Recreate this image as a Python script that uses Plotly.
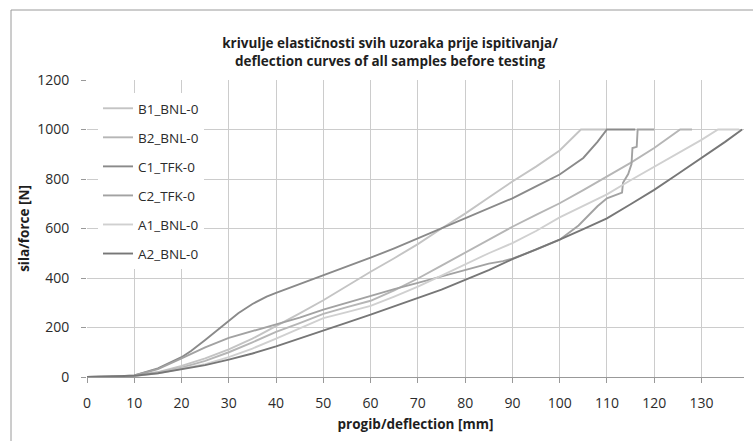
import plotly.graph_objects as go

# ---- data ----
names = ["B1_BNL-0", "B2_BNL-0", "C1_TFK-0", "C2_TFK-0", "A1_BNL-0", "A2_BNL-0"]
colors = ["#c4c4c4", "#b6b6b6", "#8a8a8a", "#a2a2a2", "#d0d0d0", "#777777"]

b1_x = [0, 5, 10, 15, 20, 25, 30, 35, 40, 45, 50, 55, 60, 65, 70, 75, 80, 85, 90, 95, 100, 104.5, 110]
b1_y = [0, 1, 5, 20, 45, 75, 112, 155, 205, 257, 310, 368, 425, 480, 537, 600, 660, 725, 790, 850, 915, 1000, 1000]

b2_x = [0, 5, 10, 15, 20, 25, 30, 35, 40, 45, 50, 55, 60, 65, 70, 75, 80, 85, 90, 95, 100, 105, 110, 115, 120, 125.5, 128]
b2_y = [0, 1, 5, 18, 38, 65, 100, 140, 182, 218, 255, 282, 308, 350, 398, 450, 503, 555, 607, 655, 702, 755, 810, 865, 925, 1000, 1000]

c1_x = [0, 5, 10, 15, 20, 22, 25, 28, 30, 32, 35, 38, 40, 45, 50, 55, 60, 65, 70, 75, 80, 85, 90, 95, 100, 105, 108, 110, 116]
c1_y = [0, 1, 6, 35, 80, 105, 150, 195, 228, 258, 295, 325, 340, 375, 410, 445, 482, 520, 560, 601, 640, 680, 722, 770, 818, 885, 950, 1000, 1000]

c2_x = [0, 5, 10, 15, 20, 25, 30, 35, 40, 45, 50, 55, 60, 65, 70, 75, 80, 85, 88, 90, 95, 100, 104,
        106, 108, 110, 112, 113.2, 113.4, 114.5, 115.2, 115.4, 116.3, 116.5, 120]
c2_y = [0, 1, 6, 32, 75, 120, 158, 185, 210, 240, 272, 300, 325, 355, 380, 405, 433, 458, 468, 478, 515, 555, 612,
        650, 690, 722, 738, 745, 785, 820, 860, 925, 930, 1000, 1000]

a1_x = [0, 5, 10, 15, 20, 25, 30, 35, 40, 45, 50, 55, 60, 65, 70, 75, 80, 85, 90, 95, 100, 105, 110, 115, 120, 125, 130, 133.5, 138]
a1_y = [0, 1, 4, 15, 32, 52, 80, 115, 155, 195, 238, 262, 287, 325, 365, 410, 455, 500, 541, 590, 645, 690, 738, 795, 850, 905, 958, 1000, 1000]

a2_x = [0, 5, 10, 15, 20, 25, 30, 35, 40, 45, 50, 55, 60, 65, 70, 75, 80, 85, 90, 95, 100, 105, 110, 115, 120, 125, 130, 135, 138.6]
a2_y = [0, 1, 5, 15, 30, 48, 70, 95, 124, 155, 188, 220, 252, 285, 318, 353, 392, 432, 476, 515, 555, 597, 641, 698, 756, 820, 884, 950, 1000]

series_x = [b1_x, b2_x, c1_x, c2_x, a1_x, a2_x]
series_y = [b1_y, b2_y, c1_y, c2_y, a1_y, a2_y]

x_ticks = list(range(0, 140, 10))
y_ticks = list(range(0, 1201, 200))

title_text = "krivulje elastičnosti svih uzoraka prije ispitivanja/<br>deflection curves of all samples before testing"
x_title = "progib/deflection [mm]"
y_title = "sila/force [N]"

FONT = "Open Sans"
TXT = "#2b2b2b"

fig = go.Figure()
for name, col, xs, ys in zip(names, colors, series_x, series_y):
    fig.add_trace(go.Scatter(
        x=xs, y=ys, mode="lines", name=name, legendgroup=name,
        line=dict(color=col, width=1.9),
        hoverinfo="skip",
    ))

L, R, T, B = 87, 9, 80, 64
W, H = 753, 441
pw = W - L - R
ph = H - T - B

def px_to_paper_x(px):
    return (px - L) / pw

def px_to_paper_y(py):
    return (H - B - py) / ph

fig.update_layout(
    width=W, height=H,
    margin=dict(l=L, r=R, t=T, b=B),
    paper_bgcolor="white", plot_bgcolor="white",
    font=dict(family=FONT, size=13, color=TXT),
    title=dict(text="<b>" + title_text + "</b>", x=px_to_paper_x(390), xref="paper",
               xanchor="center", y=1 - 48 / H, yanchor="middle",
               font=dict(family=FONT, size=13.5, color="#1e1e1e")),
    showlegend=True,
    legend=dict(x=px_to_paper_x(98), y=px_to_paper_y(93), xanchor="left", yanchor="top",
                bgcolor="white", borderwidth=0, tracegroupgap=8.5,
                font=dict(family=FONT, size=13.5, color=TXT)),
    xaxis=dict(range=[0, 139], tickvals=x_ticks, ticktext=[str(v) for v in x_ticks],
               showgrid=True, gridcolor="#cccccc", gridwidth=1,
               zeroline=False, showline=True, linecolor="#999999", linewidth=1,
               ticks="outside", ticklen=5, tickcolor="#999999",
               ticklabelstandoff=8,
               tickfont=dict(family=FONT, size=14, color=TXT),
               title=dict(text="<b>" + x_title + "</b>", standoff=8,
                          font=dict(family=FONT, size=13.5, color="#1e1e1e"))),
    yaxis=dict(range=[0, 1200], tickvals=y_ticks, ticktext=[str(v) for v in y_ticks],
               showgrid=True, gridcolor="#cccccc", gridwidth=1,
               zeroline=False, showline=False,
               ticks="outside", ticklen=5, tickcolor="#999999",
               ticklabelstandoff=9,
               tickfont=dict(family=FONT, size=14, color=TXT),
               title=dict(text="<b>" + y_title + "</b>", standoff=4,
                          font=dict(family=FONT, size=13.5, color="#1e1e1e"))),
    shapes=[dict(type="rect", xref="paper", yref="paper",
                 x0=px_to_paper_x(11), x1=px_to_paper_x(760),
                 y0=px_to_paper_y(450), y1=px_to_paper_y(10),
                 line=dict(color="#9a9a9a", width=1), fillcolor="rgba(0,0,0,0)", layer="below")],
)

fig.write_html("out.html")
